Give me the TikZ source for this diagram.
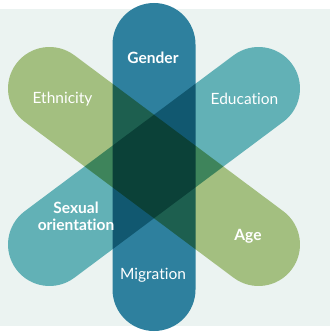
\documentclass[tikz,border=0pt]{standalone}
\usepackage{fontspec}
\setmainfont{Lato}[Ligatures=CommonOff]
\definecolor{bgcol}{HTML}{EBF3F1}
\definecolor{gendercol}{HTML}{2E809E}
\definecolor{greencol}{HTML}{A3BF80}
\definecolor{tealcol}{HTML}{62B1B6}

\begin{document}
\begin{tikzpicture}[x=1pt,y=-1pt,
  band/.style={line width=83pt,line cap=round},
  label node/.style={text=white,align=center,font=\fontsize{15.5}{17}\selectfont},
  bold node/.style={label node,font=\fontsize{15.5}{17}\selectfont\bfseries}]
  \useasboundingbox (0,0) rectangle (330,334);
  \fill[bgcol] (0,9) rectangle (330,326);

  % cap centres of the three bands
  \coordinate (top) at (154,44.5);
  \coordinate (bottom) at (154,289.5);
  \coordinate (upleft) at (49.5,88.5);
  \coordinate (downright) at (258.5,244.5);
  \coordinate (upright) at (258.5,88.5);
  \coordinate (downleft) at (49.5,244.5);

  \begin{scope}[blend group=multiply]
    \draw[band,gendercol] (top) -- (bottom);
    \draw[band,greencol] (upleft) -- (downright);
    \draw[band,tealcol] (upright) -- (downleft);
  \end{scope}

  \node[bold node] (gender) at (153,58) {Gender};
  \node[label node] (ethnicity) at (62.5,99) {Ethnicity};
  \node[label node] (education) at (244.5,99) {Education};
  \node[bold node] (sexual) at (76,216) {Sexual\\orientation};
  \node[bold node] (age) at (248,236) {Age};
  \node[label node] (migration) at (153,275) {Migration};
\end{tikzpicture}
\end{document}
